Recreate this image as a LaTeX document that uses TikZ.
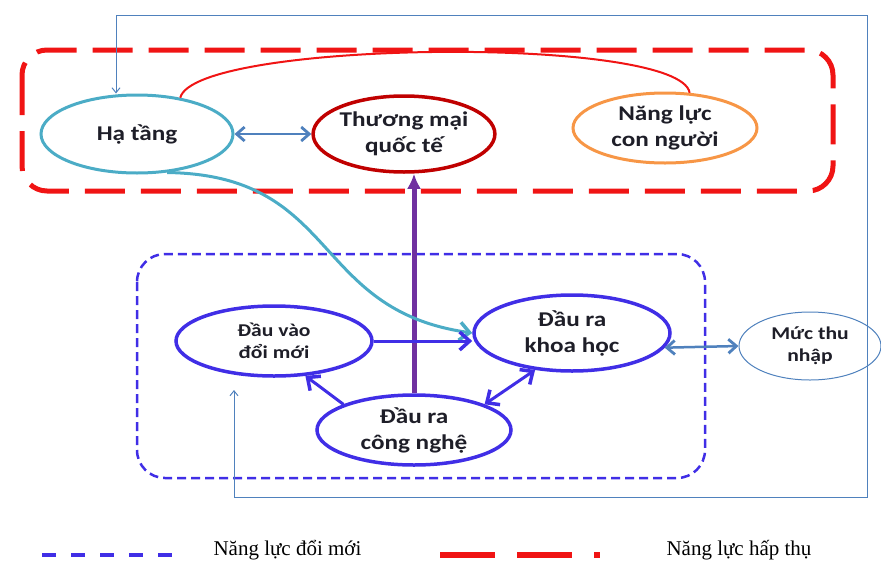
\documentclass[tikz,border=0pt]{standalone}
\usepackage{fontspec}
\setmainfont{Liberation Serif}
\newfontfamily\boxfont[FakeStretch=1.2]{Carlito}
\usepackage{tikz}
\usetikzlibrary{arrows.meta,shapes.geometric}
\definecolor{innov}{RGB}{64,46,230}
\definecolor{absorb}{RGB}{240,20,20}
\definecolor{infra}{RGB}{75,172,198}
\definecolor{trade}{RGB}{192,0,0}
\definecolor{human}{RGB}{247,150,70}
\definecolor{steel}{RGB}{79,129,189}
\definecolor{tech}{RGB}{112,48,160}
\definecolor{ink}{RGB}{30,30,40}

\begin{document}
\begin{tikzpicture}[
  x=1pt, y=-1pt,
  oval/.style={ellipse,draw,line width=3pt,inner sep=0pt,align=center,
    text=ink,font=\boxfont\bfseries\fontsize{21}{26}\selectfont},
  small/.style={font=\boxfont\bfseries\fontsize{18}{22}\selectfont},
  barb/.tip={Straight Barb[length=10pt,width=18pt,line width=3.5pt]},
  sbarb/.tip={Straight Barb[length=8pt,width=14pt,line width=2.8pt]},
  link/.style={-barb,line width=3pt,innov},
  twoway/.style={sbarb-sbarb,line width=2.5pt,steel},
  feed/.style={{Straight Barb[length=5pt,width=8pt]}-{Straight Barb[length=5pt,width=8pt]},line width=1pt,steel},
  legend/.style={font=\fontsize{21}{24}\selectfont,anchor=west}
]
\useasboundingbox (0,0) rectangle (881,563);

% groups
\draw[absorb,line width=5pt,dash pattern=on 40pt off 16pt,rounded corners=25pt]
  (22,50) rectangle (833,191);
\draw[innov,line width=2.5pt,dash pattern=on 9pt off 5pt,rounded corners=28pt]
  (137,254) rectangle (705,478);

% nodes
\node[oval,draw=infra,minimum width=192pt,minimum height=78pt] (hatang) at (137,134) {Hạ tầng};
\node[oval,draw=trade,line width=3.5pt,minimum width=168pt,minimum height=76pt] (thuongmai) at (404,134) {Thương mại\\quốc tế};
\node[oval,draw=human,minimum width=184pt,minimum height=70pt] (nangluc) at (665,128) {Năng lực\\con người};
\node[oval,small,draw=innov,line width=3.5pt,minimum width=196pt,minimum height=70pt] (dauvao) at (274,341) {Đầu vào\\đổi mới};
\node[oval,draw=innov,line width=3.5pt,minimum width=196pt,minimum height=76pt] (khoahoc) at (572,333) {Đầu ra\\khoa học};
\node[oval,draw=innov,line width=3.5pt,minimum width=194pt,minimum height=70pt] (congnghe) at (414,430) {Đầu ra\\công nghệ};
\node[oval,small,draw=steel,line width=1pt,minimum width=142pt,minimum height=68pt] (mucthu) at (810,346) {Mức thu\\nhập};

% links
\draw[absorb,line width=2pt] (hatang.40) .. controls (195,40) and (680,35) .. (nangluc.55);
\draw[twoway] (hatang) -- (thuongmai);
\draw[-{Latex[length=15pt,width=14pt]},line width=5pt,tech]
  (congnghe.north) -- (congnghe.north |- thuongmai.south);
\draw[-barb,line width=3pt,infra]
  (hatang.-52) .. controls (340,175) and (310,310) .. (khoahoc.west);
\draw[link] (dauvao.east) -- (dauvao.east -| khoahoc.west);
\draw[link] (congnghe.160) -- (dauvao.-48);
\draw[link,barb-barb] (congnghe.20) -- (khoahoc.-135);
\draw[twoway] (khoahoc.-9) -- (mucthu.west);

% feedback loop
\coordinate (inlet) at (234,390);
\coordinate (bright) at (867,497);
\coordinate (tleft) at (116,15);
\draw[feed] (inlet) |- (bright) |- (tleft) -- ([xshift=-21pt]hatang.north);

% legend
\draw[innov,line width=4pt,dash pattern=on 14pt off 15pt] (42,555) -- (178,555);
\node[legend] (lgdoimoi) at (210,550) {Năng lực đổi mới};
\draw[absorb,line width=6pt,dash pattern=on 55pt off 22pt] (440,555) -- (600,555);
\node[legend] (lghapthu) at (663,550) {Năng lực hấp thụ};
\end{tikzpicture}
\end{document}
